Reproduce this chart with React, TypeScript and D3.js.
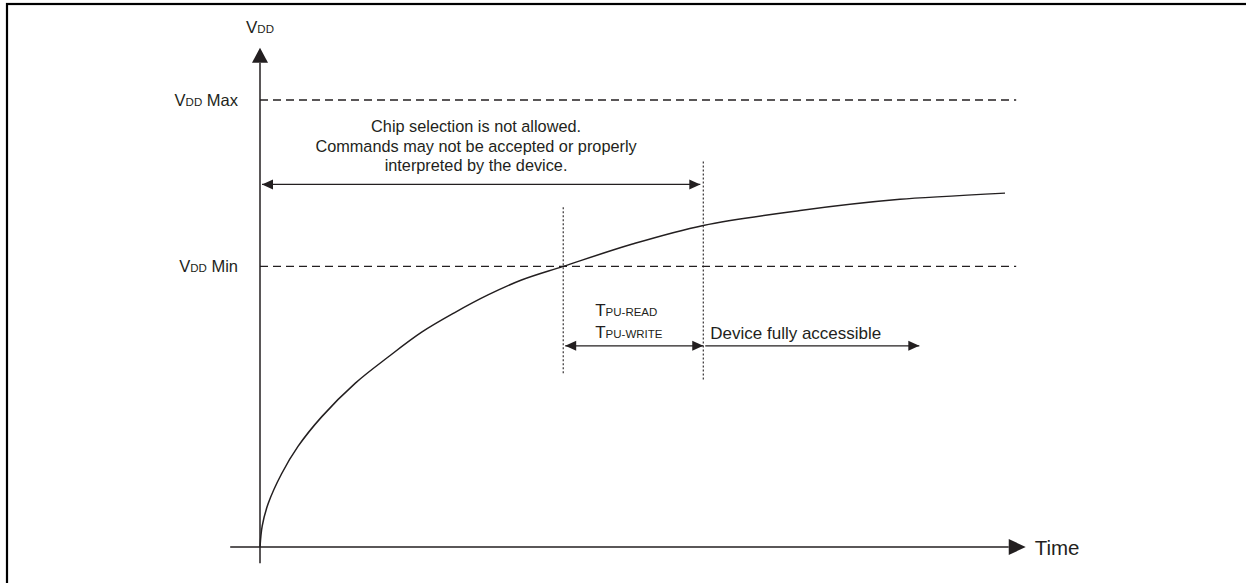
import { useRef, useEffect } from "react";
import * as d3 from "d3";

const WIDTH = 1246;
const HEIGHT = 583;

// supply rise: time (ms) / voltage (V)
const rampTime = [0, 0.03, 0.11, 0.29, 0.51, 0.83, 1.28, 1.72, 2.17, 2.62, 3.06, 3.51, 4.07, 5.0, 5.95, 7.25, 8.59, 10];
const rampVolts = [0, 0.17, 0.35, 0.59, 0.81, 1.05, 1.32, 1.53, 1.73, 1.89, 2.03, 2.15, 2.26, 2.44, 2.59, 2.71, 2.8, 2.85];

// VDD levels
const levelNames = ["Max", "Min"];
const levelVolts = [3.6, 2.26];

// VDD min crossing, end of tPU, end of "fully accessible" arrow
const markTimes = [4.07, 5.95];
const accessEnd = 8.85;

const chipLines = [
  "Chip selection is not allowed.",
  "Commands may not be accepted or properly",
  "interpreted by the device.",
];
const tpuLabels = ["PU-READ", "PU-WRITE"];

const INK = "#231f20";
const FONT = "'Liberation Sans', Arial, Helvetica, sans-serif";

function PowerUpTiming() {
  const ref = useRef<SVGSVGElement | null>(null);

  useEffect(() => {
    if (!ref.current) return;
    const svg = d3.select(ref.current).html("");

    const x = d3.scaleLinear().domain([0, 10]).range([260, 1005]);
    const y = d3.scaleLinear().domain([0, 3.6]).range([547, 100]);

    // frame (runs off the right and bottom of the picture)
    svg
      .append("rect")
      .attr("x", 7)
      .attr("y", 4)
      .attr("width", WIDTH + 40)
      .attr("height", HEIGHT + 40)
      .attr("fill", "white")
      .attr("stroke", "black")
      .attr("stroke-width", 2.2);

    const g = svg.append("g").attr("font-family", FONT).attr("fill", INK);

    const arrowHead = (tipX: number, tipY: number, dir: string, len: number, half: number) => {
      let pts: [number, number][] = [];
      if (dir === "right") pts = [[tipX, tipY], [tipX - len, tipY - half], [tipX - len, tipY + half]];
      if (dir === "left") pts = [[tipX, tipY], [tipX + len, tipY - half], [tipX + len, tipY + half]];
      if (dir === "up") pts = [[tipX, tipY], [tipX - half, tipY + len], [tipX + half, tipY + len]];
      g.append("path")
        .attr("d", "M" + pts.map((p) => p.join(",")).join("L") + "Z")
        .attr("fill", INK);
    };

    // axes
    const xAxisY = y(0);
    const xEnd = x(10.05);
    g.append("line")
      .attr("x1", x(-0.4))
      .attr("x2", xEnd)
      .attr("y1", xAxisY)
      .attr("y2", xAxisY)
      .attr("stroke", INK)
      .attr("stroke-width", 1.5);
    arrowHead(xEnd + 17, xAxisY, "right", 17, 8);

    const yTop = y(3.9);
    g.append("line")
      .attr("x1", x(0))
      .attr("x2", x(0))
      .attr("y1", y(-0.13))
      .attr("y2", yTop)
      .attr("stroke", INK)
      .attr("stroke-width", 1.5);
    arrowHead(x(0), yTop - 15, "up", 15, 8);

    // axis labels
    const vdd = g
      .append("text")
      .attr("x", x(0))
      .attr("y", yTop - 30)
      .attr("text-anchor", "middle");
    vdd.append("tspan").attr("font-size", 17).text("V");
    vdd.append("tspan").attr("font-size", 11.5).text("DD");

    g.append("text")
      .attr("x", xEnd + 26)
      .attr("y", xAxisY + 8)
      .attr("font-size", 20.5)
      .text("Time");

    // VDD max / min levels
    levelVolts.forEach((v, i) => {
      g.append("line")
        .attr("x1", x(0))
        .attr("x2", x(10.15))
        .attr("y1", y(v))
        .attr("y2", y(v))
        .attr("stroke", INK)
        .attr("stroke-width", 1.3)
        .attr("stroke-dasharray", "8,5");
      const t = g
        .append("text")
        .attr("x", x(0) - 22)
        .attr("y", y(v) + 5.5)
        .attr("text-anchor", "end");
      t.append("tspan").attr("font-size", 16.5).text("V");
      t.append("tspan").attr("font-size", 11.5).text("DD");
      t.append("tspan").attr("font-size", 16.5).text(" " + levelNames[i]);
    });

    // supply ramp
    const ramp = rampTime.map((t, i) => [t, rampVolts[i]] as [number, number]);
    const line = d3
      .line<[number, number]>()
      .curve(d3.curveCatmullRom.alpha(0.5))
      .x((d) => x(d[0]))
      .y((d) => y(d[1]));
    g.append("path")
      .datum(ramp)
      .attr("fill", "none")
      .attr("stroke", INK)
      .attr("stroke-width", 1.5)
      .attr("d", line);

    // dotted markers
    const markSpan = [
      [1.4, 2.75],
      [1.35, 3.12],
    ];
    markTimes.forEach((t, i) => {
      g.append("line")
        .attr("x1", x(t))
        .attr("x2", x(t))
        .attr("y1", y(markSpan[i][0]))
        .attr("y2", y(markSpan[i][1]))
        .attr("stroke", INK)
        .attr("stroke-width", 1.1)
        .attr("stroke-dasharray", "2,2");
    });

    const hArrow = (t0: number, t1: number, v: number, leftHead: boolean, rightHead: boolean) => {
      const x0 = x(t0) + 2;
      const x1 = x(t1);
      g.append("line")
        .attr("x1", x0)
        .attr("x2", x1)
        .attr("y1", y(v))
        .attr("y2", y(v))
        .attr("stroke", INK)
        .attr("stroke-width", 1.3);
      if (leftHead) arrowHead(x0, y(v), "left", 11, 5);
      if (rightHead) arrowHead(x1, y(v), "right", 11, 5);
    };

    // chip-select forbidden window
    const chipV = 2.92;
    hArrow(0, markTimes[1] - 0.04, chipV, true, true);
    chipLines.forEach((s, i) => {
      g.append("text")
        .attr("x", x(2.9))
        .attr("y", y(chipV) - 52 + i * 19.5)
        .attr("text-anchor", "middle")
        .attr("font-size", 16.3)
        .text(s);
    });

    // tPU window and fully accessible
    const tpuV = 1.62;
    hArrow(markTimes[0], markTimes[1], tpuV, true, true);
    hArrow(markTimes[1], accessEnd, tpuV, false, true);

    tpuLabels.forEach((s, i) => {
      const t = g
        .append("text")
        .attr("x", x(markTimes[0]) + 32)
        .attr("y", y(tpuV) - 30 + i * 22);
      t.append("tspan").attr("font-size", 17).text("T");
      t.append("tspan").attr("font-size", 11.5).text(s);
    });

    g.append("text")
      .attr("x", x(markTimes[1]) + 7)
      .attr("y", y(tpuV) - 7)
      .attr("font-size", 17)
      .text("Device fully accessible");
  }, []);

  return (
    <svg
      ref={ref}
      width={WIDTH}
      height={HEIGHT}
      style={{ position: "absolute", left: 0, top: 0, background: "white" }}
    ></svg>
  );
}

export default function App() {
  return <PowerUpTiming />;
}
